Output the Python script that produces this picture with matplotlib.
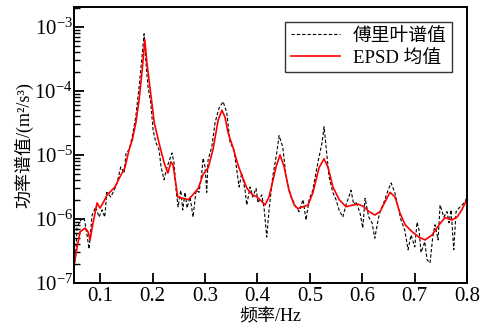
import matplotlib
matplotlib.use("Agg")
import matplotlib.pyplot as plt
from matplotlib.ticker import FixedLocator, LogLocator, NullFormatter

plt.rcParams['font.family'] = ['Liberation Serif', 'Noto Sans CJK SC']
plt.rcParams['mathtext.fontset'] = 'stix'

# 傅里叶谱值 (dashed)
freq_fft = [0.050, 0.0532, 0.0557, 0.0628, 0.0691, 0.0742, 0.0786, 0.0844, 0.0914, 0.0977,
            0.1034, 0.1086, 0.1124, 0.120, 0.1263, 0.1321, 0.1391, 0.1454, 0.1492, 0.155,
            0.1607, 0.1677, 0.174, 0.1779, 0.1836, 0.1868, 0.1912, 0.1964, 0.2008, 0.2059,
            0.2122, 0.216, 0.2218, 0.2275, 0.237, 0.2408, 0.2447, 0.2485, 0.2536, 0.2574,
            0.2618, 0.2656, 0.2714, 0.2771, 0.2828, 0.2885, 0.2937, 0.2962, 0.300, 0.3032,
            0.3057, 0.3128, 0.3191, 0.3267, 0.3344, 0.3414, 0.3477, 0.3553, 0.3605, 0.3649,
            0.370, 0.3763, 0.3796, 0.3859, 0.391, 0.3973, 0.4011, 0.4082, 0.4126, 0.4177,
            0.4221, 0.4292, 0.4368, 0.4412, 0.4483, 0.4546, 0.4641, 0.4737, 0.4794, 0.487,
            0.4927, 0.4985, 0.5055, 0.5151, 0.5233, 0.5271, 0.5322, 0.5366, 0.5437, 0.550,
            0.5557, 0.5628, 0.5691, 0.5786, 0.5838, 0.5882, 0.5958, 0.601, 0.6053, 0.6124,
            0.6187, 0.6239, 0.6302, 0.634, 0.641, 0.6492, 0.655, 0.662, 0.6683, 0.674,
            0.6811, 0.6874, 0.6931, 0.7002, 0.7046, 0.7084, 0.7122, 0.7193, 0.7237, 0.7294,
            0.7345, 0.7389, 0.7447, 0.7485, 0.7556, 0.7618, 0.7656, 0.7695, 0.7746, 0.779,
            0.7847, 0.7905, 0.7962, 0.800]
psd_fft = [1.7e-7, 2.9e-7, 7.5e-7, 9.6e-7, 1.04e-6, 6.0e-7, 3.4e-7, 1.15e-6, 1.54e-6, 1.07e-6,
           1.38e-6, 1.07e-6, 2.6e-6, 2.2e-6, 2.8e-6, 3.65e-6, 6.5e-6, 5.2e-6, 1.07e-5, 1.2e-5,
           1.87e-5, 3.9e-5, 1.15e-4, 2.4e-4, 7.8e-4, 3.0e-4, 1.15e-4, 6.5e-5, 2.45e-5, 1.58e-5,
           1.2e-5, 6.5e-6, 4.1e-6, 6.5e-6, 1.07e-5, 7.5e-6, 2.8e-6, 1.54e-6, 2.8e-6, 1.38e-6,
           2.6e-6, 1.48e-6, 2.2e-6, 1.07e-6, 2.8e-6, 2.6e-6, 5.2e-6, 8.9e-6, 6.5e-6, 2.6e-6,
           8.3e-6, 1.33e-5, 3.2e-5, 5.4e-5, 6.8e-5, 4.6e-5, 1.55e-5, 1.2e-5, 5.9e-6, 3.16e-6,
           5.2e-6, 2.8e-6, 1.65e-6, 3.16e-6, 2.2e-6, 3.0e-6, 1.78e-6, 2.37e-6, 1.48e-6, 5.2e-7,
           1.38e-6, 4.6e-6, 1.07e-5, 2.0e-5, 1.33e-5, 4.6e-6, 2.2e-6, 1.54e-6, 1.3e-6, 2.0e-6,
           9.6e-7, 2.0e-6, 2.8e-6, 7.5e-6, 1.55e-5, 2.75e-5, 1.07e-5, 4.6e-6, 2.6e-6, 2.0e-6,
           1.38e-6, 1.07e-6, 1.65e-6, 2.8e-6, 1.65e-6, 1.86e-6, 1.23e-6, 7.2e-7, 2.1e-6, 1.07e-6,
           8.7e-7, 5.0e-7, 9.6e-7, 1.3e-6, 1.78e-6, 2.8e-6, 3.65e-6, 2.6e-6, 1.54e-6, 9.6e-7,
           6.7e-7, 3.3e-7, 5.6e-7, 3.65e-7, 8.9e-7, 6.7e-7, 3.0e-7, 4.4e-7, 2.3e-7, 2.05e-7,
           5.2e-7, 8.1e-7, 4.7e-7, 1.65e-6, 1.07e-6, 1.3e-6, 8.7e-7, 1.38e-6, 3.3e-7, 1.3e-6,
           1.48e-6, 1.65e-6, 1.86e-6, 2.2e-6]

# EPSD 均值 (red)
freq_epsd = [0.050, 0.0557, 0.0615, 0.071, 0.0767, 0.0805, 0.0863, 0.0939, 0.0996, 0.1053,
             0.113, 0.1187, 0.128, 0.138, 0.147, 0.155, 0.161, 0.168, 0.174, 0.180,
             0.185, 0.189, 0.197, 0.203, 0.212, 0.222, 0.229, 0.235, 0.239, 0.243,
             0.248, 0.258, 0.268, 0.277, 0.287, 0.296, 0.306, 0.315, 0.325, 0.332,
             0.338, 0.344, 0.353, 0.363, 0.371, 0.380, 0.390, 0.399, 0.409, 0.4145,
             0.422, 0.426, 0.4355, 0.443, 0.451, 0.460, 0.470, 0.477, 0.487, 0.4966,
             0.506, 0.5175, 0.527, 0.535, 0.544, 0.556, 0.569, 0.582, 0.592, 0.6015,
             0.613, 0.624, 0.634, 0.6435, 0.653, 0.6626, 0.672, 0.682, 0.695, 0.708,
             0.720, 0.733, 0.7466, 0.758, 0.771, 0.781, 0.790, 0.800]
psd_epsd = [1.9e-7, 3.6e-7, 6.3e-7, 7.2e-7, 6.3e-7, 4.7e-7, 8.7e-7, 1.78e-6, 1.48e-6, 1.78e-6,
            2.37e-6, 2.63e-6, 3.16e-6, 4.6e-6, 6.3e-6, 1.2e-5, 1.7e-5, 3.2e-5, 7.2e-5, 2.1e-4,
            6.3e-4, 2.75e-4, 8.1e-5, 3.2e-5, 1.55e-5, 7.5e-6, 5.2e-6, 7.8e-6, 6.9e-6, 4.1e-6,
            2.2e-6, 2.1e-6, 2.0e-6, 2.4e-6, 3.0e-6, 4.9e-6, 6.3e-6, 1.2e-5, 3.5e-5, 5.0e-5,
            3.9e-5, 2.2e-5, 1.33e-5, 6.9e-6, 4.6e-6, 3.0e-6, 2.4e-6, 2.2e-6, 1.85e-6, 1.65e-6,
            2.2e-6, 3.0e-6, 6.5e-6, 1.0e-5, 6.5e-6, 2.8e-6, 1.65e-6, 1.45e-6, 1.55e-6, 1.65e-6,
            2.6e-6, 6.3e-6, 8.7e-6, 6.3e-6, 3.16e-6, 2.0e-6, 1.55e-6, 1.65e-6, 1.7e-6, 1.58e-6,
            1.3e-6, 1.15e-6, 1.3e-6, 1.85e-6, 2.6e-6, 2.2e-6, 1.23e-6, 8.1e-7, 6.3e-7, 5.2e-7,
            4.7e-7, 5.6e-7, 8.1e-7, 1.05e-6, 9.6e-7, 1.07e-6, 1.38e-6, 2.05e-6]

x_ticks = [0.1, 0.2, 0.3, 0.4, 0.5, 0.6, 0.7, 0.8]

fig = plt.figure(figsize=(4.81, 3.29), dpi=100)
ax = fig.add_axes([0.154, 0.140, 0.817, 0.839])

ax.plot(freq_fft, psd_fft, color='black', linestyle=(0, (3, 1.8)), linewidth=0.8,
        label='傅里叶谱值')
ax.plot(freq_epsd, psd_epsd, color='red', linewidth=1.2, label='EPSD 均值')

ax.set_yscale('log')
ax.set_xlim(0.05, 0.8)
ax.set_ylim(1e-7, 2.05e-3)
ax.xaxis.set_major_locator(FixedLocator(x_ticks))
ax.set_xticklabels([f'{t:.1f}' for t in x_ticks])
ax.yaxis.set_major_locator(LogLocator(base=10, numticks=10))
ax.yaxis.set_minor_locator(LogLocator(base=10, subs=range(2, 10), numticks=10))
ax.yaxis.set_minor_formatter(NullFormatter())

ax.tick_params(which='both', direction='in', top=False, right=False, labelsize=15)
ax.tick_params(which='major', length=7, width=1.3, pad=3)
ax.tick_params(which='minor', length=4, width=1.0)
ax.tick_params(axis='x', which='minor', bottom=False)
ax.tick_params(axis='y', pad=1)
for s in ax.spines.values():
    s.set_linewidth(1.4)

ax.set_xlabel('频率/Hz', fontsize=13, labelpad=2)
ax.set_ylabel('功率谱值/(m²/s³)', fontsize=13, labelpad=1)

leg = ax.legend(loc='upper right', fontsize=13.5, frameon=True, fancybox=False,
                edgecolor='black', handlelength=2.6, borderaxespad=0.8,
                borderpad=0.3, labelspacing=0.25, handletextpad=0.7)
leg.get_frame().set_linewidth(1.0)

plt.savefig('out.png', dpi=100)
plt.close()
